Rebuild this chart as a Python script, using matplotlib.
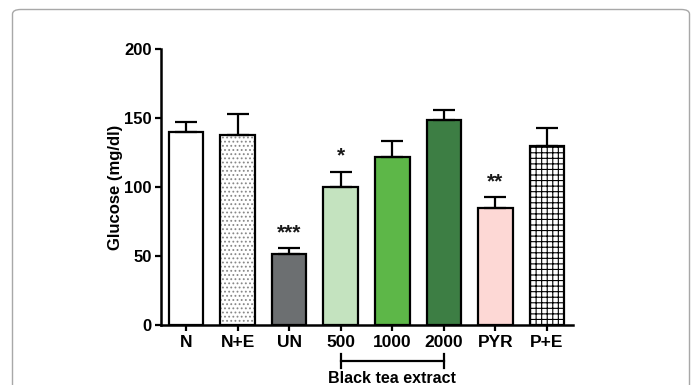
import numpy as np
import matplotlib
matplotlib.use("Agg")
import matplotlib.pyplot as plt
from matplotlib.patches import FancyBboxPatch

plt.rcParams["font.family"] = ["Liberation Sans", "DejaVu Sans"]
plt.rcParams["font.weight"] = "bold"
plt.rcParams["hatch.linewidth"] = 0.8

# data
groups = ["N", "N+E", "UN", "500", "1000", "2000", "PYR", "P+E"]
means = [140, 138, 51.5, 100, 122, 148.5, 85, 130]
sem = [7, 15, 4.5, 11, 11, 7.5, 8, 13]
stars = ["", "", "***", "*", "", "", "**", ""]
star_y = [0, 0, 60, 116, 0, 0, 97, 0]

colors = ["white", "white", "#6c6f71", "#c4e3bf", "#5db748", "#3d7e44", "#fdd8d5", "white"]
hatches = [None, "....", None, None, None, None, None, "+++"]
hatch_cols = [None, "#888888", None, None, None, None, None, "black"]

fig = plt.figure(figsize=(6.94, 3.85), dpi=100)

# rounded frame around the panel
frame = FancyBboxPatch((12.5 / 694, -0.1), (689.5 - 12.5) / 694, 1.1 - 9.5 / 385,
                       boxstyle="round,pad=0,rounding_size=0.012",
                       transform=fig.transFigure, fill=False,
                       edgecolor="#a8a8a8", linewidth=1.0)
fig.patches.append(frame)

ax = fig.add_axes([161 / 694, 60 / 385, 412 / 694, 276 / 385])
x = np.arange(len(groups))
w = 0.67

for i in range(len(groups)):
    if hatches[i]:
        ax.bar(x[i], means[i], w, color="white", edgecolor=hatch_cols[i],
               hatch=hatches[i], linewidth=0, zorder=2)
        ax.bar(x[i], means[i], w, fill=False, edgecolor="black", linewidth=1.6, zorder=3)
    else:
        ax.bar(x[i], means[i], w, color=colors[i], edgecolor="black", linewidth=1.6, zorder=3)

ax.errorbar(x, means, yerr=[np.zeros(len(sem)), sem], fmt="none", ecolor="black",
            elinewidth=1.6, capsize=8, capthick=1.6, zorder=4)

for i, s in enumerate(stars):
    if s:
        ax.text(x[i], star_y[i], s, ha="center", va="bottom", fontsize=15,
                fontweight="bold", color="#1a1a1a")

ax.set_xlim(-0.485, 7.505)
ax.set_ylim(0, 200)
ax.set_yticks([0, 50, 100, 150, 200])
ax.set_xticks(x)
ax.set_xticklabels(groups)
ax.tick_params(axis="both", labelsize=12, width=1.6, length=4.5, direction="out", colors="black")
ax.tick_params(axis="x", labelsize=12.5, pad=3)
ax.tick_params(axis="y", pad=2)
ax.spines["top"].set_visible(False)
ax.spines["right"].set_visible(False)
ax.spines["left"].set_linewidth(1.8)
ax.spines["bottom"].set_linewidth(1.8)
ax.set_ylabel("Glucose (mg/dl)", fontsize=12, fontweight="bold", labelpad=1)

# bracket for the black tea extract doses
bt = ax.get_xaxis_transform()
ax.plot([3, 5], [-0.13, -0.13], color="black", lw=1.6, transform=bt, clip_on=False)
ax.plot([3, 3], [-0.105, -0.155], color="black", lw=1.6, transform=bt, clip_on=False)
ax.plot([5, 5], [-0.105, -0.155], color="black", lw=1.6, transform=bt, clip_on=False)
ax.text(4, -0.195, "Black tea extract", transform=bt, ha="center", va="center",
        fontsize=11.5, fontweight="bold")

fig.savefig("out.png", dpi=100)
